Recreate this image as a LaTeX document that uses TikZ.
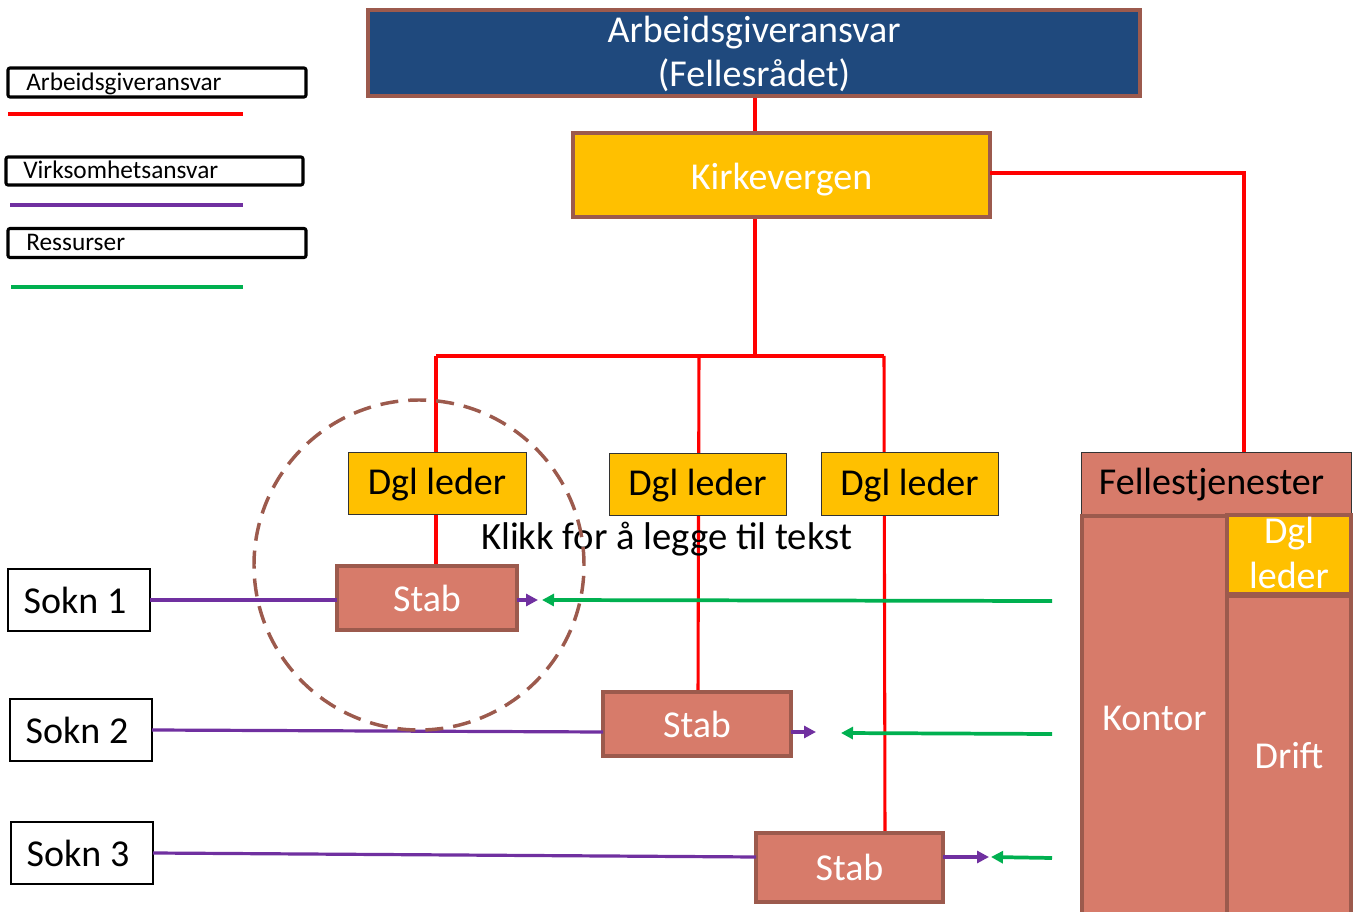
\documentclass[tikz,border=0pt]{standalone}
\usepackage{fontspec}
\setmainfont{Carlito}
\usetikzlibrary{arrows.meta}
\definecolor{dblue}{HTML}{1F497D}
\definecolor{brownb}{HTML}{9C5A4D}
\definecolor{salmon}{HTML}{D77B6A}
\definecolor{gold}{HTML}{FFC000}
\definecolor{purp}{HTML}{7030A0}
\definecolor{grn}{HTML}{00B050}
\definecolor{redl}{HTML}{FF0000}
\tikzset{
  big/.style={font=\fontsize{28.5}{33}\selectfont},
  sized/.style 2 args={minimum width=#1*0.75pt, minimum height=#2*0.75pt, inner sep=0pt, outer sep=0pt},
  topbox/.style={fill=dblue, draw=brownb, line width=2.5pt},
  goldbox/.style={fill=gold, draw=brownb, line width=2.5pt, text=white, big},
  dglbox/.style={fill=gold, draw=black!80, line width=0.6pt, text=black, big, text height=18pt, text depth=0pt},
  stabbox/.style={fill=salmon, draw=brownb, line width=2.8pt, text=white, big},
  soknbox/.style={fill=white, draw=black, line width=0.8pt, text=black, big},
  fsbox/.style={fill=salmon, draw=black!80, line width=0.6pt, text=black, big, text height=18pt, text depth=0pt},
  colbox/.style={fill=salmon, draw=brownb, line width=3.5pt, text=white, big},
  legbox/.style={draw=black, line width=2.3pt, rounded corners=1.5pt, inner sep=0pt},
  legtext/.style={font=\fontsize{19}{22}\selectfont, anchor=base west, inner sep=0pt},
  redline/.style={draw=redl, line width=2.3pt},
  purpline/.style={draw=purp, line width=2.4pt},
  grnline/.style={draw=grn, line width=2.8pt},
  tip/.style={-{Triangle[length=9pt,width=9pt]}},
  ring/.style={circle, draw=brownb, line width=2.6pt, dash pattern=on 13.5pt off 7.5pt, inner sep=0pt},
  btext/.style={big, anchor=base, inner sep=0pt},
}
\begin{document}
\begin{tikzpicture}[x=0.75pt,y=-0.75pt]
\useasboundingbox (0,0) rectangle (1353,912);
% legend
\node[legbox, sized={298}{29}] (lg1) at (157,82.5) {};
\node[legtext] (lt1) at (26,91) {Arbeidsgiveransvar};
\coordinate (lr1) at (8,114); \coordinate (lr2) at (243,114);
\draw[redline] (lr1) -- (lr2);
\node[legbox, sized={297}{28}] (lg2) at (154.5,171) {};
\node[legtext] (lt2) at (23,179) {Virksomhetsansvar};
\coordinate (lp1) at (10,205); \coordinate (lp2) at (243,205);
\draw[purpline] (lp1) -- (lp2);
\node[legbox, sized={298}{29}] (lg3) at (157,243) {};
\node[legtext] (lt3) at (26,251) {Ressurser};
\coordinate (lgr1) at (11,287); \coordinate (lgr2) at (243,287);
\draw[grnline] (lgr1) -- (lgr2);

% junction coordinates
\coordinate (j0) at (755,356);
\coordinate (j1) at (436,356);
\coordinate (j2) at (699,356);
\coordinate (j3) at (884,356);
\coordinate (k1) at (1244,173);

% red lines (behind boxes)
\draw[redline] (755,96) -- (755,133);
\draw[redline] (755,217) -- (j0);
\draw[redline] (j1) -- (j3);
\draw[redline] (j1) -- (436,566);
\draw[redline] (j2) -- (698,692);
\draw[redline] (j3) -- (885,833);

% main boxes
\node[topbox, sized={772}{86}] (top) at (754,53) {};
\node[btext, text=white] (topt1) at (754,43) {Arbeidsgiveransvar};
\node[btext, text=white] (topt2) at (754,87) {(Fellesrådet)};
\node[goldbox, sized={417}{84}, text height=22pt, text depth=0pt] (kirk) at (781.5,175) {Kirkevergen};
\draw[redline] (kirk.east |- k1) -- (k1) -- (1244,452);

\node[dglbox, sized={178}{62}] (dgl1) at (437,483) {Dgl leder};
\node[dglbox, sized={177}{62}] (dgl2) at (697.5,484) {Dgl leder};
\node[dglbox, sized={177}{63}] (dgl3) at (909.5,483.5) {Dgl leder};

\node[font=\fontsize{29}{33}\selectfont, anchor=base, inner sep=0pt] (klikk) at (666.5,550) {Klikk for å legge til tekst};

\node[stabbox, sized={180}{64}] (stab1) at (427,598) {Stab};
\node[stabbox, sized={188}{64}] (stab2) at (697,724) {Stab};
\node[stabbox, sized={187}{69}] (stab3) at (849.5,867.5) {Stab};

\node[soknbox, sized={142}{62}] (sokn1) at (79,600) {};
\node[btext] (sokn1t) at (75,613) {Sokn 1};
\node[soknbox, sized={142}{62}] (sokn2) at (81,730) {};
\node[btext] (sokn2t) at (77,743) {Sokn 2};
\node[soknbox, sized={142}{62}] (sokn3) at (82,853) {};
\node[btext] (sokn3t) at (78,866) {Sokn 3};

% fellestjenester
\node[fsbox, sized={270}{62}] (fs) at (1216,483) {};
\node[btext] (fst) at (1211.5,495) {Fellestjenester};
\node[colbox, sized={145}{404}] (kontor) at (1154.5,718) {Kontor};
\node[goldbox, sized={124}{79}, line width=3.5pt] (dgls) at (1289,554.5) {};
\node[btext, text=white] (dglst1) at (1289,544) {Dgl};
\node[btext, text=white] (dglst2) at (1289,589) {leder};
\node[colbox, sized={124}{320}] (drift) at (1289,756) {Drift};

% purple and green arrows
\coordinate (a1) at (538,600);
\coordinate (a2) at (816,732);
\coordinate (a3) at (989,857);
\coordinate (g1) at (1052,601);
\coordinate (g1e) at (542,600);
\coordinate (g2) at (1052,734);
\coordinate (g2e) at (841,733);
\coordinate (g3) at (1052,858);
\coordinate (g3e) at (991,857);

\draw[purpline] (sokn1.east) -- (stab1.west |- sokn1.east);
\draw[purpline, tip] (stab1.east |- a1) -- (a1);
\draw[purpline] (sokn2.east) -- (stab2.west |- a2);
\draw[purpline, tip] (stab2.east |- a2) -- (a2);
\draw[purpline] (sokn3.east) -- (stab3.west |- a3);
\draw[purpline, tip] (stab3.east |- a3) -- (a3);

\draw[grnline, tip] (g1) -- (g1e);
\draw[grnline, tip] (g2) -- (g2e);
\draw[grnline, tip] (g3) -- (g3e);

% dashed ring
\node[ring, minimum size=247.5pt] (ringc) at (419,565) {};
\end{tikzpicture}
\end{document}
